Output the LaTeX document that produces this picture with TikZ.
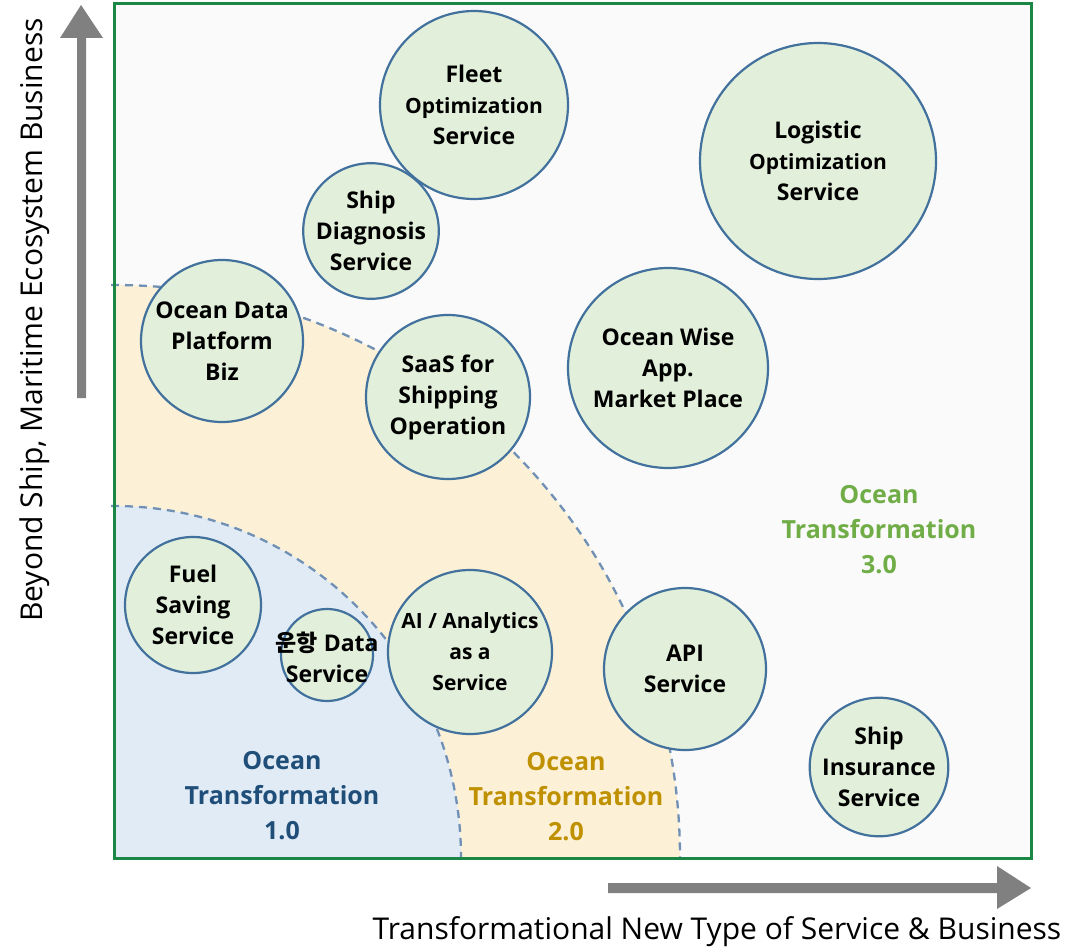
\documentclass[tikz,border=0pt]{standalone}
\usepackage{fontspec}
\setmainfont{Open Sans}
\newfontfamily\krfont{Noto Sans CJK KR}
\definecolor{framegreen}{HTML}{1A8744}
\definecolor{bgfill}{HTML}{FAFAFA}
\definecolor{bluefill}{HTML}{E1EBF5}
\definecolor{yellowfill}{HTML}{FCF1D7}
\definecolor{bubblefill}{HTML}{E2EFDA}
\definecolor{bubbleline}{HTML}{41719C}
\definecolor{dashline}{HTML}{7090B5}
\definecolor{otblue}{HTML}{1F4E79}
\definecolor{otgold}{HTML}{BF9000}
\definecolor{otgreen}{HTML}{70AD47}
\definecolor{axisgray}{HTML}{808080}
\tikzset{
	bubble/.style={circle, draw=bubbleline, fill=bubblefill, line width=2.2pt, align=center, inner sep=0pt, font=\bfseries\fontsize{23}{31}\selectfont},
	bubbletext/.style={align=center, inner sep=0pt, font=\bfseries\fontsize{23}{31}\selectfont},
	otlabel/.style={align=center, font=\bfseries\fontsize{25}{35}\selectfont},
	zoneline/.style={draw=dashline, line width=2.3pt, dash pattern=on 8pt off 6pt},
	axistext/.style={font=\fontsize{30}{34}\selectfont}
}
\begin{document}
\begin{tikzpicture}[x=1pt,y=-1pt]
	\useasboundingbox (0,0) rectangle (1071,950);
	% plane and zones
	\fill[bgfill] (114,4) rectangle (1031,858);
	\fill[yellowfill] (114,858) -- (114,285) arc[start angle=-90, end angle=0, x radius=566, y radius=573] -- cycle;
	\fill[bluefill] (114,858) -- (114,506) arc[start angle=-90, end angle=0, x radius=347, y radius=352] -- cycle;
	\draw[zoneline] (111,285) -- (114,285) arc[start angle=-90, end angle=0, x radius=566, y radius=573];
	\draw[zoneline] (111,506) -- (114,506) arc[start angle=-90, end angle=0, x radius=347, y radius=352];
	\draw[framegreen, line width=3pt] (114,4) rectangle (1031,858);
	% zone labels
	\node[otlabel, text=otblue] (ot1) at (282,796) {Ocean\\Transformation\\1.0};
	\node[otlabel, text=otgold] (ot2) at (566,797) {Ocean\\Transformation\\2.0};
	\node[otlabel, text=otgreen] (ot3) at (879,530) {Ocean\\Transformation\\3.0};
	% services
	\node[bubble, minimum size=188] (fleet) at (474,105) {Fleet\\{\fontsize{21}{31}\selectfont Optimization}\\Service};
	\node[bubble, minimum size=236] (logistic) at (818,161) {Logistic\\{\fontsize{21}{31}\selectfont Optimization}\\Service};
	\node[bubble, minimum size=134] (diagnosis) at (371,231) {Ship\\Diagnosis\\Service};
	\node[bubble, minimum size=162] (dataplatform) at (222,341) {Ocean Data\\Platform\\Biz};
	\node[bubble, minimum size=164] (saas) at (448,397) {SaaS for\\Shipping\\Operation};
	\node[bubble, minimum size=200] (oceanwise) at (668,368) {Ocean Wise\\App.\\Market Place};
	\node[bubble, minimum size=136] (fuel) at (193,605) {Fuel\\Saving\\Service};
	\node[bubble, minimum size=92] (operation) at (327,655) {};
	\node[bubbletext] (operationtext) at (327,657) {{\krfont 운항} Data\\Service};
	\node[bubble, minimum size=164, font=\bfseries\fontsize{21}{31}\selectfont] (analytics) at (470,652) {AI / Analytics\\as a\\Service};
	\node[bubble, minimum size=162] (api) at (685,669) {API\\Service};
	\node[bubble, minimum size=136] (insurance) at (879,767) {Ship\\Insurance\\Service};
	% axes
	\node[axistext, rotate=90] (yaxis) at (35,320) {Beyond Ship, Maritime Ecosystem Business};
	\node[axistext] (xaxis) at (717,932) {Transformational New Type of Service \& Business};
	\fill[axisgray] (77,398) -- (77,38) -- (60,38) -- (81,5) -- (103,38) -- (86,38) -- (86,398) -- cycle;
	\fill[axisgray] (608,883) -- (997,883) -- (997,866) -- (1031,888) -- (997,909) -- (997,893) -- (608,893) -- cycle;
\end{tikzpicture}
\end{document}
